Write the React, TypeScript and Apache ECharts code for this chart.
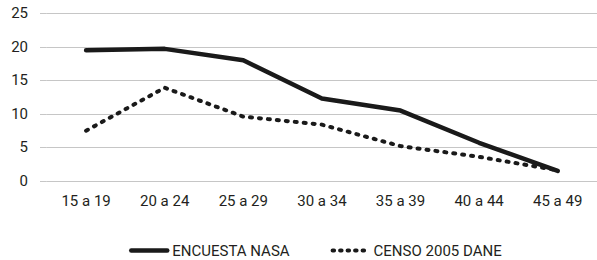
import React, { useEffect, useRef } from "react";
import * as echarts from "echarts";

const categories = ["15 a 19", "20 a 24", "25 a 29", "30 a 34", "35 a 39", "40 a 44", "45 a 49"];
const encuestaNasa = [19.5, 19.7, 18.0, 12.3, 10.5, 5.7, 1.5];
const censo2005Dane = [7.5, 13.9, 9.6, 8.4, 5.2, 3.6, 1.6];
const seriesNames = ["ENCUESTA NASA", "CENSO 2005 DANE"];

const TEXT = "#231f20";
const GRID = "#c6c6c6";
const FONT = "Roboto";

export default function App() {
  const ref = useRef<HTMLDivElement>(null);
  useEffect(() => {
    if (!ref.current) return;
    const chart = echarts.init(ref.current, null, { renderer: "svg" });
    chart.setOption({
      animation: false,
      textStyle: { fontFamily: FONT, color: TEXT },
      grid: { left: 46.8, top: 13.3, width: 565.6, height: 167.7, containLabel: false },
      legend: {
        left: 124,
        top: 238,
        itemWidth: 36,
        itemHeight: 16,
        itemGap: 41,
        itemStyle: { opacity: 0 },
        textStyle: { fontFamily: FONT, fontSize: 15, color: TEXT },
        data: [
          { name: seriesNames[0], lineStyle: { width: 4.5, cap: "round" } },
          { name: seriesNames[1], lineStyle: { width: 4, type: [1.5, 6], cap: "round" } },
        ],
      },
      xAxis: {
        type: "category",
        data: categories,
        boundaryGap: true,
        axisLine: { show: false },
        axisTick: { show: false },
        axisLabel: { fontFamily: FONT, fontSize: 15, color: TEXT, margin: 12 },
      },
      yAxis: {
        type: "value",
        min: 0,
        max: 25,
        interval: 5,
        axisLine: { show: false },
        axisTick: { show: true, length: 6.8, lineStyle: { color: GRID, width: 1 } },
        axisLabel: { fontFamily: FONT, fontSize: 15, color: TEXT, margin: 18.8 },
        splitLine: { lineStyle: { color: GRID, width: 1 } },
      },
      series: [
        {
          name: seriesNames[0],
          type: "line",
          data: encuestaNasa,
          symbol: "none",
          lineStyle: { color: "#1a1a1a", width: 4.5, cap: "round", join: "round" },
          itemStyle: { color: "#1a1a1a" },
          z: 3,
        },
        {
          name: seriesNames[1],
          type: "line",
          data: censo2005Dane,
          symbol: "none",
          lineStyle: { color: "#1a1a1a", width: 4, type: [2, 7], cap: "round", join: "round" },
          itemStyle: { color: "#1a1a1a" },
          z: 2,
        },
      ],
    });
    return () => chart.dispose();
  }, []);
  return (
    <div style={{ position: "absolute", left: 0, top: 0, width: 597, height: 260, overflow: "hidden", background: "#fff" }}>
      <div ref={ref} style={{ width: 597, height: 260 }} />
    </div>
  );
}
